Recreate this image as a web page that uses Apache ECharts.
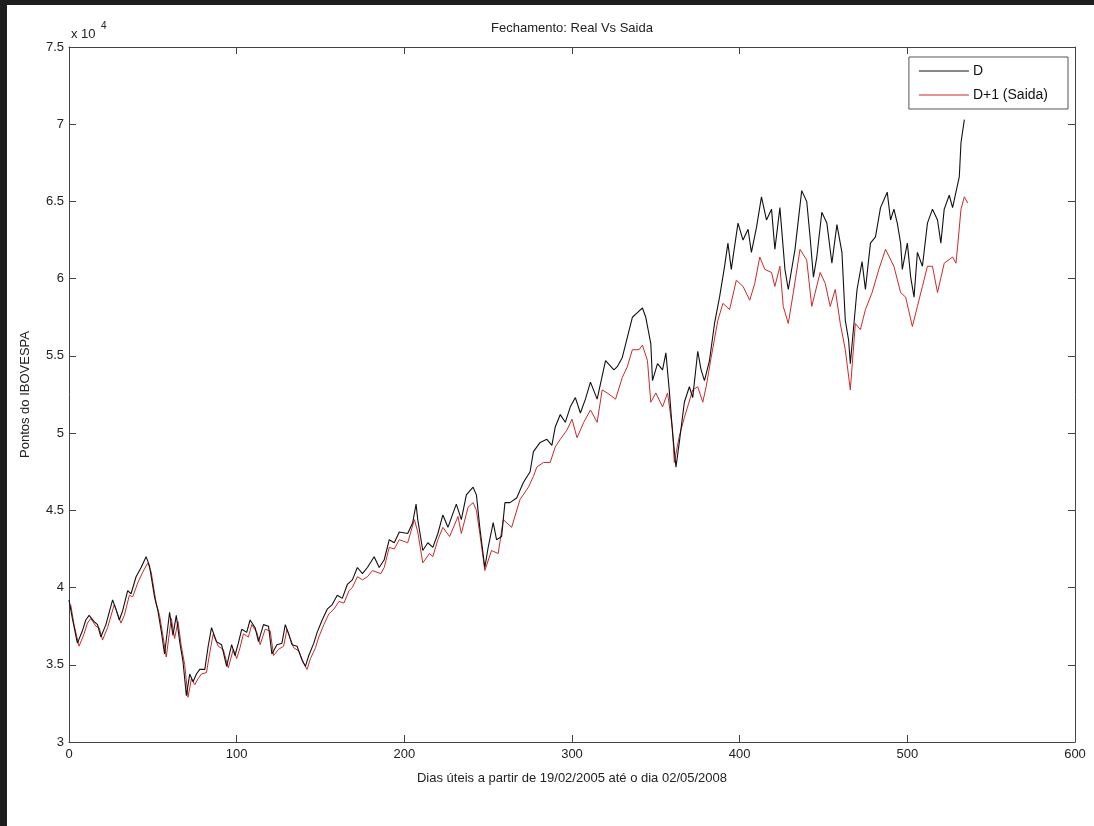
<!DOCTYPE html>
<html>
<head>
<meta charset="utf-8">
<script src="https://cdn.jsdelivr.net/npm/echarts@6/dist/echarts.min.js"></script>
<style>
html,body{margin:0;padding:0;background:#fff;}
#c{width:1094px;height:826px;}
</style>
</head>
<body>
<div id="c"></div>
<script>
// Days (x) and closing values for "D"
var dDays = [0,2,5,8,10,12,15,17,19,22,26,28,30,32,35,37,40,43,46,48,51,53,55,57,60,62,64,66,68,70,72,74,76,78,81,83,85,88,91,94,97,99,101,103,106,108,111,113,116,119,121,124,127,129,131,133,136,139,141,143,146,148,151,154,157,160,163,166,169,172,175,178,182,185,188,191,194,197,202,205,207,208,211,214,217,220,223,226,231,234,237,241,243,245,248,250,253,255,258,260,263,267,271,275,277,281,285,288,290,293,296,299,302,305,308,311,315,320,325,327,330,333,336,339,342,344,347,348,351,354,356,358,360,362,364,367,370,372,375,377,379,382,385,388,391,393,395,399,402,405,407,410,413,416,419,421,424,427,429,433,437,440,442,444,446,449,452,455,458,461,463,465,466,468,470,473,475,478,481,484,488,490,492,494,496,497,500,502,504,506,509,512,515,518,520,522,525,527,529,531,532,534];
var dVals = [39200,38000,36400,37200,37900,38200,37800,37600,36800,37600,39200,38600,37900,38500,39800,39600,40700,41300,42000,41400,39400,38500,37200,35700,38400,36900,38200,36500,35200,33000,34400,33900,34400,34700,34700,36200,37400,36500,36300,34900,36300,35600,36400,37300,37100,37900,37400,36500,37600,37500,35700,36300,36400,37600,37000,36300,36200,35300,34900,35600,36400,37100,37900,38600,38900,39500,39300,40200,40500,41300,40900,41300,42000,41300,41800,43100,42900,43600,43500,44200,45400,44400,42400,42900,42600,43500,44700,43900,45400,44400,46000,46500,46000,43900,41300,42600,44200,43100,43300,45500,45500,45800,46800,47500,48800,49400,49600,49200,50400,51200,50700,51700,52300,51300,52200,53300,52200,54700,54100,54300,54900,56200,57500,57800,58100,57500,55800,53400,54500,54100,55200,52800,50000,47800,49400,52000,53000,52300,55300,54100,53400,54700,57100,58800,60800,62300,60600,63600,62500,63200,61700,63300,65300,63800,64500,61900,64600,60600,59300,61900,65700,65000,62700,60100,61400,64300,63600,61000,63500,61700,57300,56000,54500,56900,59300,61100,59300,62300,62700,64600,65600,63800,64500,63600,62300,60600,62300,60100,58800,61700,60800,63600,64500,63800,62300,64500,65400,64600,65600,66600,68800,70300];

// Days (x) and values for "D+1 (Saida)"
var sDays = [1,3,6,9,11,13,16,18,20,23,27,29,31,33,36,38,41,44,47,49,52,54,56,58,61,63,65,67,69,71,73,75,77,79,82,84,86,89,92,95,98,100,102,104,107,109,112,114,117,120,122,125,128,130,132,134,137,140,142,144,147,149,152,155,158,161,164,167,169,172,175,178,181,186,188,191,194,197,202,206,208,211,215,217,220,223,227,232,234,238,241,243,245,248,252,256,259,264,269,274,277,279,283,287,290,293,297,300,303,307,311,315,318,321,326,330,333,336,340,342,345,347,350,354,357,360,361,364,367,372,375,378,380,383,387,390,394,398,402,406,409,412,415,419,421,424,426,429,432,436,440,443,448,451,454,457,460,463,466,469,472,475,479,483,487,492,496,499,503,506,509,512,515,518,522,527,529,530,532,534,536];
var sVals = [38900,37600,36200,37000,37700,38000,37500,37400,36600,37400,38900,38300,37700,38200,39500,39400,40300,41000,41600,41000,39000,38200,36900,35500,38000,36700,37800,36200,35000,32900,34100,33700,34100,34400,34500,35800,37000,36200,36000,34800,36000,35400,36100,37000,36800,37600,37100,36300,37300,37200,35600,36000,36200,37300,36700,36100,35900,35100,34700,35400,36100,36800,37600,38300,38600,39100,39000,39800,40000,40700,40500,40700,41100,40900,41300,42600,42500,43100,42900,44400,43600,41600,42200,42000,43100,43900,43300,44600,43500,45200,45500,45000,43500,41100,42400,42200,44400,43900,45700,46500,47200,47800,48100,48100,49100,49600,50200,50900,49700,50700,51500,50700,52800,52600,52200,53600,54300,55400,55400,55700,54700,52000,52600,51700,52600,50200,48100,49800,51000,52800,53000,52000,53000,54900,57300,58400,58000,59900,59500,58600,59700,61400,60600,60400,59500,60800,58200,57100,59100,61900,61200,58200,60400,59700,58200,59300,57100,55400,52800,57100,56700,58000,59100,60600,61900,60800,59100,58800,56900,58200,59500,60800,60800,59100,61000,61400,61000,62100,64500,65300,64900];

var xTicks = [0,100,200,300,400,500,600];
var yTickLabels = ['3','3.5','4','4.5','5','5.5','6','6.5','7','7.5'];

function pairs(xs, ys){ var out=[]; for(var i=0;i<xs.length;i++){ out.push([xs[i], ys[i]]); } return out; }

var chart = echarts.init(document.getElementById('c'), null, {renderer:'canvas'});
var FONT = 'Liberation Sans, Arial, sans-serif';
var axisCol = '#444';

var baseX = {
  type:'value', min:0, max:600, interval:100,
  axisLine:{show:true, onZero:false, lineStyle:{color:axisCol, width:1}},
  axisTick:{show:true, inside:true, length:7, lineStyle:{color:axisCol}},
  splitLine:{show:false}
};
var baseY = {
  type:'value', min:30000, max:75000, interval:5000,
  axisLine:{show:true, onZero:false, lineStyle:{color:axisCol, width:1}},
  axisTick:{show:true, inside:true, length:7, lineStyle:{color:axisCol}},
  splitLine:{show:false}
};

var option = {
  backgroundColor:'#fff',
  animation:false,
  grid:{left:69, top:47, right:19, bottom:84, containLabel:false},
  xAxis:[
    Object.assign({}, baseX, {
      position:'bottom',
      axisLabel:{show:true, color:'#222', fontFamily:FONT, fontSize:13, margin:6,
        formatter:function(v){ return xTicks.indexOf(v)>=0 ? String(v) : ''; }},
      name:'Dias úteis a partir de 19/02/2005 até o dia 02/05/2008',
      nameLocation:'middle', nameGap:30,
      nameTextStyle:{color:'#222', fontFamily:FONT, fontSize:13}
    }),
    Object.assign({}, baseX, {position:'top', axisLabel:{show:false}})
  ],
  yAxis:[
    Object.assign({}, baseY, {
      position:'left',
      axisLabel:{show:true, color:'#222', fontFamily:FONT, fontSize:13, margin:5,
        formatter:function(v){ var i=Math.round((v-30000)/5000); return yTickLabels[i]||''; }},
      name:'Pontos do IBOVESPA', nameLocation:'middle', nameGap:37,
      nameTextStyle:{color:'#222', fontFamily:FONT, fontSize:13}
    }),
    Object.assign({}, baseY, {position:'right', axisLabel:{show:false}})
  ],
  legend:{
    show:true, right:26, top:57, orient:'vertical',
    backgroundColor:'#fff', borderColor:'#555', borderWidth:1, borderRadius:0,
    padding:[7,20,7,10], itemGap:10, itemWidth:50, itemHeight:14,
    icon:'path://M0,0H50V1H0Z',
    textStyle:{color:'#111', fontFamily:FONT, fontSize:14, padding:[0,0,0,-1]},
    data:['D','D+1 (Saida)']
  },
  graphic:[
    {type:'rect', shape:{x:0,y:0,width:7,height:826}, style:{fill:'#1e1e1e'}, z:100},
    {type:'rect', shape:{x:0,y:0,width:1094,height:5}, style:{fill:'#1e1e1e'}, z:100},
    {type:'text', x:572, y:28, style:{text:'Fechamento: Real Vs Saida', fill:'#222', font:'13px '+FONT, textAlign:'center', textVerticalAlign:'middle'}},
    {type:'text', x:71, y:34, style:{text:'x 10', fill:'#222', font:'13px '+FONT, textAlign:'left', textVerticalAlign:'middle'}},
    {type:'text', x:101, y:26, style:{text:'4', fill:'#222', font:'10px '+FONT, textAlign:'left', textVerticalAlign:'middle'}}
  ],
  series:[
    {name:'D', type:'line', xAxisIndex:0, yAxisIndex:0, data:pairs(dDays,dVals),
     symbol:'none', lineStyle:{color:'#111', width:1.1}, itemStyle:{color:'#111'}, z:3},
    {name:'D+1 (Saida)', type:'line', xAxisIndex:0, yAxisIndex:0, data:pairs(sDays,sVals),
     symbol:'none', lineStyle:{color:'#cc2a2a', width:1}, itemStyle:{color:'#cc2a2a'}, z:2}
  ]
};
chart.setOption(option);
</script>
</body>
</html>
